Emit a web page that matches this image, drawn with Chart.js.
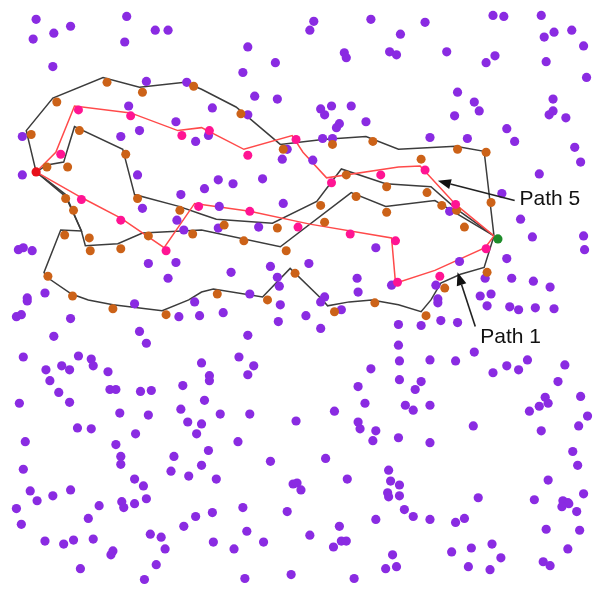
<!DOCTYPE html>
<html>
<head>
<meta charset="utf-8">
<script src="https://cdn.jsdelivr.net/npm/chart.js@4/dist/chart.umd.min.js"></script>
<style>
  html, body { margin: 0; padding: 0; background: #ffffff; }
  canvas { display: block; }
</style>
</head>
<body>
<canvas id="field" width="600" height="589"></canvas>
<script>
// Sensor field: node positions in field units (x: 0..600, y: 0..589, y grows downward)
const sensorNodes = [
  [32,15],[29,35],[50,29],[67,22],[124,12],[122,38],[153,26],[166,26],[49,63],[144,78],[185,79],[126,103],[174,119],[137,128],[118,134],[194,139],[18,134],
  [314,17],[310,26],[372,15],[247,43],[275,59],[242,69],[345,49],[347,54],[391,48],[398,51],[254,93],[277,96],[211,105],[247,112],[321,106],[332,103],[325,112],[352,103],[340,121],[337,125],[367,119],[323,136],[333,136],[207,133],[287,147],
  [427,18],[402,30],[449,48],[496,11],[507,12],[545,11],[558,28],[576,26],[548,33],[588,42],[498,52],[489,59],[550,58],[591,74],[460,89],[477,99],[482,108],[457,113],[557,96],[557,108],[553,112],[570,115],[510,126],[432,135],[470,136],[518,139],[579,145],
  [18,173],[135,173],[179,193],[140,207],[175,219],[182,229],[14,249],[19,247],[28,250],[146,263],[174,262],[166,278],[41,293],[23,298],
  [282,157],[313,158],[217,178],[232,182],[262,177],[203,187],[283,202],[218,205],[217,227],[258,226],[377,247],[270,266],[309,263],[230,272],[277,277],[279,286],[358,278],[359,292],[393,285],[249,294],[325,297],
  [585,160],[543,172],[505,192],[524,218],[536,236],[588,235],[589,249],[510,258],[462,261],[515,278],[537,281],[554,287],[488,278],[438,285],[483,296],[494,294],[452,210],[440,299],
  [23,301],[17,315],[12,317],[67,319],[50,337],[132,304],[137,332],[144,344],[177,317],[198,316],[193,302],[19,358],[75,357],[88,360],[90,367],[58,367],[66,371],[42,371],[46,382],[105,373],[107,391],[113,391],[138,393],[149,392],[181,387],[200,364],[55,394],[66,404],[15,405],[117,415],[146,417],[179,411],[186,424],[200,426],[74,430],[88,431],[133,436],[195,436],[21,444],[113,447],
  [222,313],[280,305],[278,322],[306,316],[321,302],[342,310],[321,329],[247,336],[400,325],[400,346],[238,358],[253,367],[247,376],[208,377],[208,382],[401,362],[372,370],[401,381],[359,388],[203,402],[366,405],[335,413],[219,416],[249,416],[296,423],[359,424],[361,431],[377,433],[374,443],[400,440],[237,444],
  [440,303],[490,306],[513,307],[522,310],[539,308],[558,309],[423,326],[443,321],[460,323],[477,353],[432,361],[458,362],[496,374],[510,367],[522,371],[531,361],[569,366],[562,383],[423,383],[417,391],[407,407],[415,412],[432,407],[549,399],[552,405],[543,408],[533,413],[585,398],[592,418],[583,428],[476,428],[545,433],[432,445],
  [118,459],[118,467],[172,459],[169,474],[187,479],[200,468],[19,472],[132,482],[141,489],[26,494],[33,504],[49,499],[67,493],[12,512],[17,528],[96,509],[85,522],[119,505],[121,511],[132,507],[144,502],[194,520],[182,530],[41,545],[60,548],[70,544],[90,543],[110,555],[108,559],[148,538],[159,541],[163,553],[154,569],[77,573],[142,584],
  [207,453],[270,464],[326,461],[215,482],[293,487],[297,486],[301,493],[348,482],[390,473],[392,484],[389,496],[390,500],[401,499],[401,488],[242,511],[211,516],[287,515],[377,523],[340,530],[246,535],[212,546],[233,553],[263,546],[310,539],[342,545],[347,545],[334,551],[394,559],[387,573],[398,571],[244,583],[291,579],[355,583],
  [577,454],[582,468],[552,483],[588,497],[481,501],[538,503],[567,504],[572,506],[573,507],[566,510],[581,515],[406,513],[415,520],[432,523],[458,526],[467,522],[550,533],[584,534],[495,548],[474,552],[454,556],[504,562],[572,553],[471,571],[493,574],[547,566],[554,570]
];

// Relay nodes chosen along the black routes
const routeNodesBlack = [
  [104,79],[140,89],[192,83],[53,99],[27,132],[76,128],[123,152],
  [240,111],[283,147],[333,142],[374,139],[460,147],[489,150],
  [43,165],[64,165],[62,197],[70,209],[135,197],[178,209],[86,237],[87,250],[118,248],[61,234],[146,235],[191,233],[44,276],[69,296],
  [347,173],[388,185],[321,204],[357,195],[388,211],[325,221],[277,227],[223,224],[243,240],[286,250],[295,273],[216,294],[267,300],
  [423,157],[444,204],[429,191],[459,209],[467,226],[494,201],[490,272],[447,288],
  [110,309],[164,315],[335,312],[376,303],[428,316]
];

// Relay nodes chosen along the red routes
const routeNodesRed = [
  [75,107],[128,113],[180,133],[57,152],[208,128],[296,137],[78,198],[118,219],[164,250],[197,205],
  [247,153],[332,181],[382,173],[249,210],[298,226],[351,233],[397,240],[399,282],[427,168],[458,203],[489,248],[442,276]
];

const sourceNode = [[32,170]];
const sinkNode = [[501,238]];

// Black routes (vertices)
const blackRouteOuter = [[32,170],[22,128],[49,95],[100,74],[137,84],[183,79],[200,86],[235,104],[280,142],[323,137],[367,134],[400,147],[458,144],[487,149],[497,235]];
const blackRouteInner = [[32,170],[43,163],[60,160],[63,150],[71,124],[120,147],[132,193],[177,205],[200,213],[215,218],[272,222],[317,200],[342,167],[387,182],[433,185],[458,207],[497,235]];
const blackRouteMiddle = [[32,170],[62,193],[78,230],[82,245],[115,243],[140,232],[200,229],[280,246],[352,191],[387,205],[437,199],[497,235]];
const blackRoutePath1 = [[32,170],[62,195],[78,230],[57,229],[40,272],[43,277],[68,294],[85,300],[110,305],[160,311],[187,300],[200,292],[212,289],[262,297],[290,268],[323,300],[328,306],[350,302],[373,300],[400,305],[423,312],[433,300],[443,283],[463,274],[487,267],[497,235]];

// Red routes (Path 5)
const redRouteUpper = [[32,170],[52,150],[71,103],[128,110],[176,128],[200,125],[243,147],[292,133],[303,150],[327,176],[400,165],[422,164],[458,203],[497,235]];
const redRouteLower = [[32,170],[78,196],[118,217],[162,247],[193,202],[200,203],[249,210],[310,223],[393,237],[397,283],[437,270],[488,247],[497,235]];

// Callouts: label, text anchor, arrow tail, arrow head
const calloutLabels = ['Path 5', 'Path 1'];
const calloutText = [[523,204],[483,344]];
const calloutTail = [[518,199],[478,327]];
const calloutHead = [[440,179],[460,272]];

const pts = arr => arr.map(([x, y]) => ({ x, y }));

function dots(data, color, order, r) {
  return {
    data: pts(data), backgroundColor: color, borderColor: color, borderWidth: 0,
    pointRadius: r, pointHoverRadius: r, showLine: false, order, clip: false
  };
}
function route(data, color, width) {
  return {
    data: pts(data), borderColor: color, borderWidth: width, showLine: true,
    pointRadius: 0, pointHoverRadius: 0, fill: false, tension: 0, order: 5, clip: false
  };
}

const calloutPlugin = {
  id: 'callouts',
  afterDatasetsDraw(chart) {
    const { ctx, scales: { x, y } } = chart;
    ctx.save();
    ctx.strokeStyle = '#222';
    ctx.fillStyle = '#111';
    ctx.lineWidth = 1.6;
    calloutLabels.forEach((label, i) => {
      const tx = x.getPixelForValue(calloutTail[i][0]), ty = y.getPixelForValue(calloutTail[i][1]);
      const hx = x.getPixelForValue(calloutHead[i][0]), hy = y.getPixelForValue(calloutHead[i][1]);
      const ang = Math.atan2(hy - ty, hx - tx);
      const len = 13, half = 5;
      const bx = hx - len * Math.cos(ang), by = hy - len * Math.sin(ang);
      ctx.beginPath();
      ctx.moveTo(tx, ty);
      ctx.lineTo(bx, by);
      ctx.stroke();
      ctx.beginPath();
      ctx.moveTo(hx, hy);
      ctx.lineTo(bx + half * Math.sin(ang), by - half * Math.cos(ang));
      ctx.lineTo(bx - half * Math.sin(ang), by + half * Math.cos(ang));
      ctx.closePath();
      ctx.fill();
      ctx.font = '21px "Liberation Sans", Arial, sans-serif';
      ctx.textAlign = 'left';
      ctx.textBaseline = 'alphabetic';
      ctx.fillText(label, x.getPixelForValue(calloutText[i][0]), y.getPixelForValue(calloutText[i][1]));
    });
    ctx.restore();
  }
};

new Chart(document.getElementById('field'), {
  type: 'scatter',
  data: {
    datasets: [
      dots(sourceNode, '#e8101a', 0, 4.6),
      dots(sinkNode, '#1e8c2a', 0, 4.6),
      dots(routeNodesRed, '#ff1493', 1, 4.5),
      dots(routeNodesBlack, '#cc6218', 1, 4.5),
      dots(sensorNodes, '#8a2be2', 2, 4.6),
      route(redRouteUpper, '#ff4a4a', 1.5),
      route(redRouteLower, '#ff4a4a', 1.5),
      route(blackRouteOuter, '#3c3c3c', 1.5),
      route(blackRouteInner, '#3c3c3c', 1.5),
      route(blackRouteMiddle, '#3c3c3c', 1.5),
      route(blackRoutePath1, '#3c3c3c', 1.5)
    ]
  },
  options: {
    responsive: false,
    animation: false,
    events: [],
    layout: { padding: 0 },
    plugins: { legend: { display: false }, tooltip: { enabled: false } },
    scales: {
      x: { type: 'linear', min: 0, max: 600, display: false },
      y: { type: 'linear', min: 0, max: 589, reverse: true, display: false }
    }
  },
  plugins: [calloutPlugin]
});
</script>
</body>
</html>
